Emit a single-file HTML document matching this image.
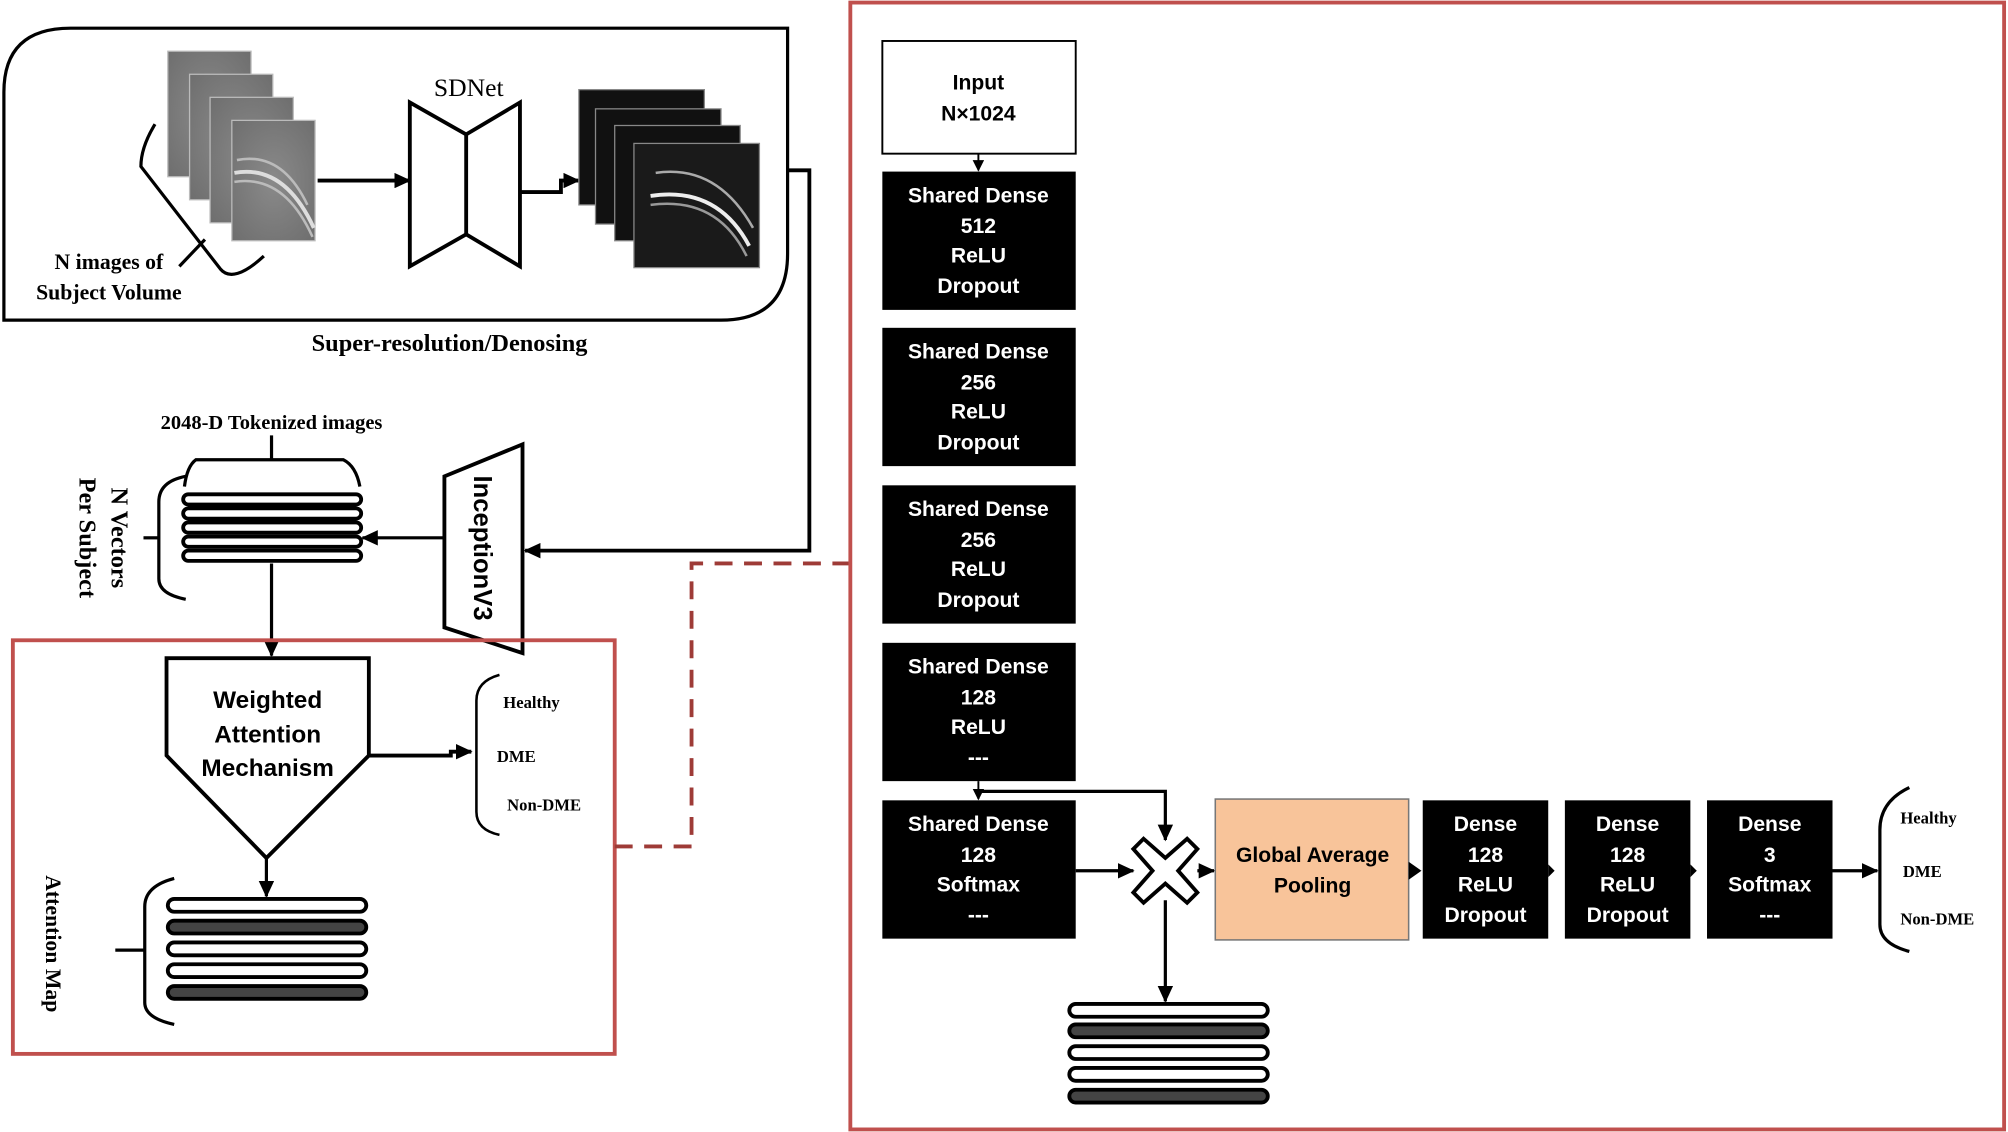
<!DOCTYPE html>
<html><head><meta charset="utf-8"><style>
html,body{margin:0;padding:0;background:#fff;}
svg{display:block;}
.ser{font-family:"Liberation Serif",serif;font-weight:bold;}
.san{font-family:"Liberation Sans",sans-serif;font-weight:bold;}
</style></head><body>
<svg width="2008" height="1132" viewBox="0 0 1568 884" xmlns="http://www.w3.org/2000/svg">
<defs>
<marker id="ah" markerWidth="13" markerHeight="12" refX="12" refY="6" orient="auto" markerUnits="userSpaceOnUse">
<path d="M0,0 L13,6 L0,12 Z" fill="#000"/></marker>
<marker id="ahs" markerWidth="9" markerHeight="9" refX="8" refY="4.5" orient="auto" markerUnits="userSpaceOnUse">
<path d="M0,0 L9,4.5 L0,9 Z" fill="#000"/></marker>
<radialGradient id="g1" cx="0.5" cy="0.5" r="0.7"><stop offset="0" stop-color="#8a8a8a"/><stop offset="1" stop-color="#6e6e6e"/></radialGradient>
</defs>
<rect width="1568" height="884" fill="#fff"/>

<path d="M3,250 L3,72 Q3,22 55,22 L615,22 L615,198 Q615,250 563,250 Z" fill="none" stroke="#000" stroke-width="2.5"/>
<text x="351" y="274" class="ser" font-size="19" text-anchor="middle">Super-resolution/Denosing</text>

<g stroke="#bbb" stroke-width="1">
<rect x="131" y="40" width="65" height="98" fill="url(#g1)"/>
<rect x="148" y="58" width="65" height="98" fill="url(#g1)"/>
<rect x="164" y="76" width="65" height="98" fill="url(#g1)"/>
<rect x="181" y="94" width="65" height="94" fill="url(#g1)"/>
</g>
<path d="M185,125 Q220,118 240,160" stroke="#bbb" stroke-width="2" fill="none"/>
<path d="M183,135 Q222,128 245,178" stroke="#ddd" stroke-width="3" fill="none"/>
<path d="M183,142 Q222,136 244,185" stroke="#bbb" stroke-width="2" fill="none"/>
<path d="M121,97 Q110,115 110,130 L172,210 Q182,222 206,200" fill="none" stroke="#000" stroke-width="2.5"/>
<line x1="140" y1="208" x2="160" y2="187" stroke="#000" stroke-width="2.5"/>
<text x="85" y="210" class="ser" font-size="17" text-anchor="middle">N images of</text>
<text x="85" y="234" class="ser" font-size="17" text-anchor="middle">Subject Volume</text>

<line x1="248" y1="141" x2="320" y2="141" stroke="#000" stroke-width="3" marker-end="url(#ah)"/>
<text x="366" y="75" font-family="Liberation Serif,serif" font-size="20" text-anchor="middle">SDNet</text>
<path d="M320,80 L364,105 L406,80 L406,208 L364,183 L320,208 Z" fill="#fff" stroke="#000" stroke-width="3"/>
<line x1="364" y1="105" x2="364" y2="183" stroke="#000" stroke-width="3"/>
<path d="M406,150 L438,150 L438,141 L452,141" fill="none" stroke="#000" stroke-width="3" marker-end="url(#ah)"/>
<g stroke="#888" stroke-width="1">
<rect x="452" y="70" width="98" height="90" fill="#111"/>
<rect x="465" y="85" width="98" height="90" fill="#111"/>
<rect x="480" y="98" width="98" height="90" fill="#111"/>
<rect x="495" y="112" width="98" height="97" fill="#1a1a1a"/>
</g>
<path d="M512,135 Q560,128 588,178" stroke="#aaa" stroke-width="2" fill="none"/>
<path d="M508,153 Q560,145 585,192" stroke="#eee" stroke-width="3" fill="none"/>
<path d="M508,160 Q560,153 583,200" stroke="#999" stroke-width="2" fill="none"/>

<path d="M615,133 L632,133 L632,430 L410,430" fill="none" stroke="#000" stroke-width="3" marker-end="url(#ah)"/>
<path d="M347,372 L408,347 L408,510 L347,490 Z" fill="#fff" stroke="#000" stroke-width="3"/>
<text transform="translate(370,428) rotate(90)" class="san" font-size="20" text-anchor="middle">InceptionV3</text>
<line x1="347" y1="420" x2="283" y2="420" stroke="#000" stroke-width="2.5" marker-end="url(#ah)"/>

<g fill="#fff" stroke="#000" stroke-width="3">
<rect x="143" y="386" width="139" height="8" rx="4"/>
<rect x="143" y="397" width="139" height="8" rx="4"/>
<rect x="143" y="408" width="139" height="8" rx="4"/>
<rect x="143" y="419" width="139" height="8" rx="4"/>
<rect x="143" y="430" width="139" height="8" rx="4"/>
</g>
<path d="M144,380 Q146,364 153,359 L268,359 Q278,364 281,380" fill="none" stroke="#000" stroke-width="2.5"/>
<line x1="212" y1="359" x2="212" y2="340" stroke="#000" stroke-width="2.5"/>
<text x="212" y="335" class="ser" font-size="16" text-anchor="middle">2048-D Tokenized images</text>
<path d="M145,372 Q124,376 124,392 L124,452 Q124,464 145,468" fill="none" stroke="#000" stroke-width="2.5"/>
<line x1="112" y1="420" x2="124" y2="420" stroke="#000" stroke-width="2.5"/>
<text transform="translate(87,420) rotate(90)" class="ser" font-size="19" text-anchor="middle">N Vectors</text>
<text transform="translate(62,420) rotate(90)" class="ser" font-size="19" text-anchor="middle">Per Subject</text>
<line x1="212" y1="440" x2="212" y2="512" stroke="#000" stroke-width="2.5" marker-end="url(#ah)"/>

<rect x="10" y="500" width="470" height="323" fill="none" stroke="#c0504d" stroke-width="3"/>
<path d="M130,514 L288,514 L288,590 L208,670 L130,590 Z" fill="#fff" stroke="#000" stroke-width="3"/>
<text x="209" y="553" class="san" font-size="19" text-anchor="middle">Weighted</text>
<text x="209" y="580" class="san" font-size="19" text-anchor="middle">Attention</text>
<text x="209" y="606" class="san" font-size="19" text-anchor="middle">Mechanism</text>
<path d="M288,590 L352,590 L352,587 L368,587" fill="none" stroke="#000" stroke-width="3" marker-end="url(#ah)"/>
<path d="M390,527 Q372,532 372,547 L372,634 Q372,648 390,652" fill="none" stroke="#000" stroke-width="2"/>
<text x="393" y="553" class="ser" font-size="13">Healthy</text>
<text x="388" y="595" class="ser" font-size="13">DME</text>
<text x="396" y="633" class="ser" font-size="13">Non-DME</text>
<line x1="208" y1="670" x2="208" y2="700" stroke="#000" stroke-width="2.5" marker-end="url(#ah)"/>
<g stroke="#000" stroke-width="3">
<rect x="131" y="702" width="155" height="10" rx="5" fill="#fff"/>
<rect x="131" y="719" width="155" height="10" rx="5" fill="#444"/>
<rect x="131" y="736" width="155" height="10" rx="5" fill="#fff"/>
<rect x="131" y="753" width="155" height="10" rx="5" fill="#fff"/>
<rect x="131" y="770" width="155" height="10" rx="5" fill="#444"/>
</g>
<path d="M136,686 Q113,692 113,708 L113,783 Q113,795 136,800" fill="none" stroke="#000" stroke-width="2.5"/>
<line x1="90" y1="742" x2="113" y2="742" stroke="#000" stroke-width="2.5"/>
<text transform="translate(36,737) rotate(90)" class="ser" font-size="17" text-anchor="middle">Attention Map</text>

<path d="M480,661 L540,661 L540,440 L663,440" fill="none" stroke="#9e3b37" stroke-width="3" stroke-dasharray="14,9"/>

<rect x="664" y="2" width="901" height="880" fill="none" stroke="#c0504d" stroke-width="3"/>

<rect x="689" y="32" width="151" height="88" fill="#fff" stroke="#000" stroke-width="1.5"/>
<text x="764" y="70" class="san" font-size="16.5" text-anchor="middle">Input</text>
<text x="764" y="94" class="san" font-size="16.5" text-anchor="middle">N×1024</text>
<g fill="#000">
<rect x="689" y="134" width="151" height="108"/>
<rect x="689" y="256" width="151" height="108"/>
<rect x="689" y="379" width="151" height="108"/>
<rect x="689" y="502" width="151" height="108"/>
<rect x="689" y="625" width="151" height="108"/>
</g>
<g class="san" font-size="16.5" fill="#fff" text-anchor="middle">
<text x="764" y="158">Shared Dense</text><text x="764" y="182">512</text><text x="764" y="205">ReLU</text><text x="764" y="229">Dropout</text>
<text x="764" y="280">Shared Dense</text><text x="764" y="304">256</text><text x="764" y="327">ReLU</text><text x="764" y="351">Dropout</text>
<text x="764" y="403">Shared Dense</text><text x="764" y="427">256</text><text x="764" y="450">ReLU</text><text x="764" y="474">Dropout</text>
<text x="764" y="526">Shared Dense</text><text x="764" y="550">128</text><text x="764" y="573">ReLU</text><text x="764" y="597">---</text>
<text x="764" y="649">Shared Dense</text><text x="764" y="673">128</text><text x="764" y="696">Softmax</text><text x="764" y="720">---</text>
</g>
<g stroke="#000" stroke-width="1.5">
<line x1="764" y1="120" x2="764" y2="133" marker-end="url(#ahs)"/>
<line x1="764" y1="610" x2="764" y2="624" marker-end="url(#ahs)"/>
</g>
<path d="M764,618 L910,618 L910,656" fill="none" stroke="#000" stroke-width="2.5" marker-end="url(#ah)"/>
<line x1="840" y1="680" x2="885" y2="680" stroke="#000" stroke-width="2.5" marker-end="url(#ah)"/>
<path d="M893,655 L910,670 L927,655 L935,663 L920,680 L935,697 L927,705 L910,690 L893,705 L885,697 L900,680 L885,663 Z" fill="#fff" stroke="#000" stroke-width="3"/>
<line x1="935" y1="680" x2="948" y2="680" stroke="#000" stroke-width="2.5" marker-end="url(#ah)"/>
<line x1="910" y1="703" x2="910" y2="782" stroke="#000" stroke-width="2.5" marker-end="url(#ah)"/>
<g stroke="#000" stroke-width="3">
<rect x="835" y="784" width="155" height="10" rx="5" fill="#fff"/>
<rect x="835" y="800" width="155" height="10" rx="5" fill="#444"/>
<rect x="835" y="817" width="155" height="10" rx="5" fill="#fff"/>
<rect x="835" y="834" width="155" height="10" rx="5" fill="#fff"/>
<rect x="835" y="851" width="155" height="10" rx="5" fill="#444"/>
</g>
<rect x="949" y="624" width="151" height="110" fill="#f8c49a" stroke="#777" stroke-width="1.2"/>
<text x="1025" y="673" class="san" font-size="16.5" text-anchor="middle">Global Average</text>
<text x="1025" y="697" class="san" font-size="16.5" text-anchor="middle">Pooling</text>
<g fill="#000">
<rect x="1111" y="625" width="98" height="108"/>
<rect x="1222" y="625" width="98" height="108"/>
<rect x="1333" y="625" width="98" height="108"/>
</g>
<g class="san" font-size="16.5" fill="#fff" text-anchor="middle">
<text x="1160" y="649">Dense</text><text x="1160" y="673">128</text><text x="1160" y="696">ReLU</text><text x="1160" y="720">Dropout</text>
<text x="1271" y="649">Dense</text><text x="1271" y="673">128</text><text x="1271" y="696">ReLU</text><text x="1271" y="720">Dropout</text>
<text x="1382" y="649">Dense</text><text x="1382" y="673">3</text><text x="1382" y="696">Softmax</text><text x="1382" y="720">---</text>
</g>
<path d="M1100,673 L1110,680 L1100,687 Z" fill="#000"/>
<path d="M1209,675 L1214,680 L1209,685 Z" fill="#000"/>
<path d="M1320,675 L1325,680 L1320,685 Z" fill="#000"/>
<line x1="1431" y1="680" x2="1466" y2="680" stroke="#000" stroke-width="2.5" marker-end="url(#ah)"/>
<path d="M1491,615 Q1468,626 1468,648 L1468,722 Q1468,737 1491,743" fill="none" stroke="#000" stroke-width="2.5"/>
<text x="1484" y="643" class="ser" font-size="13">Healthy</text>
<text x="1486" y="685" class="ser" font-size="13">DME</text>
<text x="1484" y="722" class="ser" font-size="13">Non-DME</text>
</svg>
</body></html>
